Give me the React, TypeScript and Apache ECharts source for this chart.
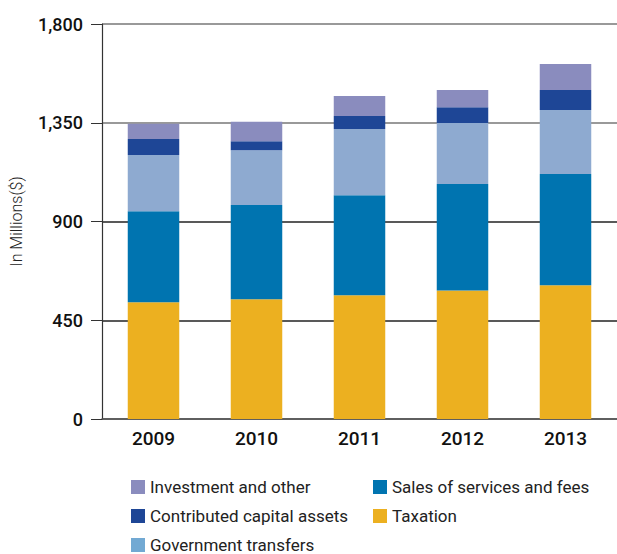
import React, { useEffect, useRef } from "react";
import * as echarts from "echarts";

const years = ["2009", "2010", "2011", "2012", "2013"];
const taxation = [532, 546, 564, 586, 609];
const salesFees = [415, 429, 456, 485, 507];
const govTransfers = [256, 250, 301, 278, 292];
const contributedAssets = [73, 41, 60, 72, 91];
const investmentOther = [70, 89, 91, 78, 119];
const yTicks = [0, 450, 900, 1350, 1800];

const FONT = "Roboto, 'Noto Sans', sans-serif";

export default function App() {
  const ref = useRef<HTMLDivElement>(null);
  useEffect(() => {
    const chart = echarts.init(ref.current!, null, { renderer: "svg" });
    const mk = (name: string, data: number[], color: string) => ({
      name,
      type: "bar",
      stack: "total",
      barWidth: "50%",
      data,
      itemStyle: { color },
      emphasis: { disabled: true },
    });
    const legendText = { fontFamily: FONT, fontSize: 17, color: "#222", lineHeight: 18 };
    const leg = (name: string, left: number, centerY: number, color?: string) => ({
      orient: "horizontal",
      left,
      top: centerY - 9,
      padding: 0,
      itemWidth: 14,
      itemHeight: 14,
      icon: "rect",
      textStyle: legendText,
      data: [color ? { name, itemStyle: { color } } : { name }],
    });
    chart.setOption({
      animation: false,
      grid: { left: 96, right: -4, top: 24, bottom: 135, containLabel: false },
      legend: [
        leg("Investment and other", 131, 487),
        leg("Contributed capital assets", 131, 516),
        leg("Government transfers", 131, 545, "#72a9d3"),
        leg("Sales of services and fees", 373, 487),
        leg("Taxation", 373, 516),
      ],
      xAxis: {
        type: "category",
        data: years,
        axisLine: { lineStyle: { color: "#555", width: 1.5 } },
        axisTick: { show: false },
        axisLabel: {
          fontFamily: FONT,
          fontSize: 19,
          fontWeight: 500,
          color: "#111",
          margin: 10,
        },
      },
      yAxis: {
        type: "value",
        min: yTicks[0],
        max: yTicks[yTicks.length - 1],
        interval: 450,
        name: "In Millions($)",
        nameLocation: "middle",
        nameGap: 78,
        nameTextStyle: { fontFamily: FONT, fontSize: 16, fontWeight: 300, color: "#222" },
        axisLine: { show: true, lineStyle: { color: "#333", width: 1.2 } },
        axisTick: { show: true, inside: false, length: 11, lineStyle: { color: "#333" } },
        axisLabel: {
          fontFamily: FONT,
          fontSize: 18,
          fontWeight: 500,
          color: "#111",
          margin: 19,
          formatter: (v: number) => v.toLocaleString("en-US"),
        },
        splitLine: {
          show: true,
          lineStyle: { color: ["#555", "#222", "#222", "#777", "#777"], width: 1.5 },
        },
      },
      series: [
        mk("Taxation", taxation, "#ecb020"),
        mk("Sales of services and fees", salesFees, "#0074b0"),
        mk("Government transfers", govTransfers, "#8eaad0"),
        mk("Contributed capital assets", contributedAssets, "#1e4696"),
        mk("Investment and other", investmentOther, "#8a8cbe"),
      ],
    });
    return () => chart.dispose();
  }, []);
  return (
    <div
      ref={ref}
      style={{ position: "fixed", left: 0, top: 0, width: 617, height: 554, background: "#fff" }}
    />
  );
}
